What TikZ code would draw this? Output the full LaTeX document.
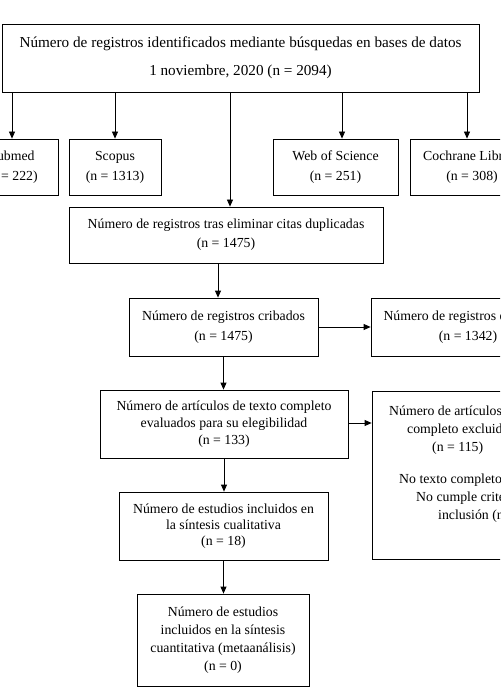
\documentclass[tikz,border=0pt]{standalone}
\usepackage{fontspec}
\setmainfont{Liberation Serif}
\usetikzlibrary{arrows.meta}
\newcommand\fsz[1]{\fontsize{13.8}{#1}\selectfont}
\begin{document}
\begin{tikzpicture}[x=1pt,y=-1pt,
  box/.style={draw, line width=0.8pt, inner sep=0pt, align=center},
  arr/.style={-{Triangle[length=7pt,width=6pt]}, line width=0.8pt}]
\useasboundingbox (0,0) rectangle (500,700);
\fill[white] (0,0) rectangle (500,700);
\clip (0,0) rectangle (500,700);
\node[box, minimum width=477pt, minimum height=68pt, font=\fontsize{15.2}{28}\selectfont] (top) at (240.5,58)
  {Número de registros identificados mediante búsquedas en bases de datos\\1 noviembre, 2020 (n = 2094)};
\node[box, minimum width=92pt, minimum height=56pt, font=\fsz{20}] (pub) at (12,167) {Pubmed\\(n = 222)};
\node[box, minimum width=92pt, minimum height=56pt, font=\fsz{20}] (scop) at (115,167) {Scopus\\(n = 1313)};
\node[box, minimum width=125pt, minimum height=56pt, font=\fsz{20}] (wos) at (335.5,167) {Web of Science\\(n = 251)};
\node[box, minimum width=124pt, minimum height=56pt, font=\fsz{20}] (coch) at (472,167) {Cochrane Library\\(n = 308)};
\node[box, minimum width=314pt, minimum height=56pt, font=\fsz{19}] (dup) at (226,235) {Número de registros tras eliminar citas duplicadas\\(n = 1475)};
\node[box, minimum width=189pt, minimum height=58pt, font=\fsz{20}] (crib) at (223.5,327) {Número de registros cribados\\(n = 1475)};
\node[box, minimum width=194pt, minimum height=58pt, font=\fsz{20}] (exrec) at (468,327) {Número de registros excluidos\\(n = 1342)};
\node[box, minimum width=248pt, minimum height=68pt, font=\fsz{17}] (eval) at (224,424) {Número de artículos de texto completo\\evaluados para su elegibilidad\\(n = 133)};
\node[box, minimum width=188pt, minimum height=168pt] (exfull) at (466,475) {};
\node[anchor=west, inner sep=0pt, align=left, font=\fsz{18}] (extext) at (376,464.5)
  {\hspace*{13pt}Número de artículos de texto\\\hspace*{31pt}completo excluidos\\\hspace*{56pt}(n = 115)\\[14pt]\hspace*{23pt}No texto completo (n=3)\\\hspace*{40pt}No cumple criterios de\\\hspace*{62pt}inclusión (n=112)};
\node[box, minimum width=209pt, minimum height=68pt, font=\fsz{16}] (qual) at (223.5,526) {Número de estudios incluidos en\\la síntesis cualitativa\\(n = 18)};
\node[box, minimum width=172pt, minimum height=92pt, font=\fsz{18}] (meta) at (223,640) {Número de estudios\\incluidos en la síntesis\\cuantitativa (metaanálisis)\\(n = 0)};
\draw[arr] (pub.north |- top.south) -- (pub.north);
\draw[arr] (scop.north |- top.south) -- (scop.north);
\coordinate (wosin) at ([xshift=6.5pt]wos.north);
\draw[arr] (wosin |- top.south) -- (wosin);
\coordinate (cochin) at ([xshift=-5pt]coch.north);
\draw[arr] (cochin |- top.south) -- (cochin);
\coordinate (dupin) at ([xshift=4pt]dup.north);
\draw[arr] (dupin |- top.south) -- (dupin);
\coordinate (cribin) at ([xshift=-5.5pt]crib.north);
\draw[arr] (cribin |- dup.south) -- (cribin);
\draw[arr] (crib.east) -- (exrec.west);
\draw[arr] (crib.south) -- (crib.south |- eval.north);
\draw[arr] ([yshift=1pt]eval.east) -- ([yshift=1pt]eval.east -| exfull.west);
\draw[arr] (eval.south) -- (eval.south |- qual.north);
\draw[arr] (qual.south) -- (qual.south |- meta.north);
\end{tikzpicture}
\end{document}
